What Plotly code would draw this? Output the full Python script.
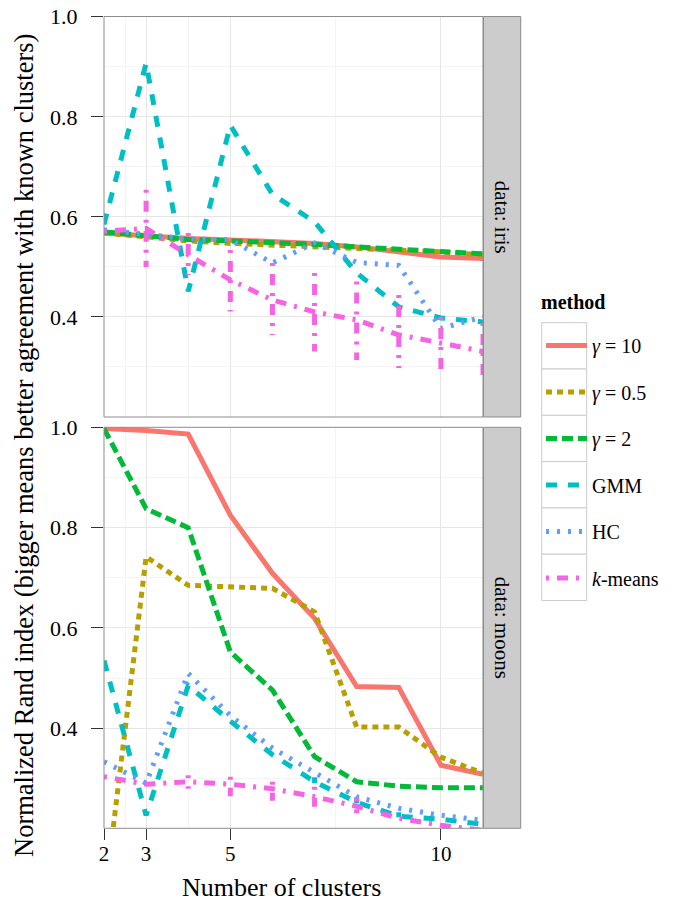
import plotly.graph_objects as go

# ---------------- data ----------------
clusters = [2, 3, 4, 5, 6, 7, 8, 9, 10, 11]
method_names = ["<i>γ</i> = 10", "<i>γ</i> = 0.5", "<i>γ</i> = 2", "GMM", "HC", "<i>k</i>-means"]

# data: iris
iris_g10 = [0.568, 0.562, 0.557, 0.554, 0.551, 0.547, 0.540, 0.530, 0.520, 0.517]
iris_g05 = [0.568, 0.560, 0.552, 0.547, 0.544, 0.540, 0.537, 0.533, 0.530, 0.524]
iris_g2 = [0.570, 0.562, 0.555, 0.552, 0.549, 0.545, 0.540, 0.536, 0.532, 0.526]
iris_gmm = [0.585, 0.907, 0.451, 0.783, 0.645, 0.590, 0.488, 0.420, 0.398, 0.390]
iris_hc = [0.574, 0.566, 0.556, 0.554, 0.508, 0.548, 0.509, 0.503, 0.377, 0.400]
iris_km = [0.571, 0.577, 0.524, 0.474, 0.434, 0.410, 0.394, 0.364, 0.348, 0.331]
iris_km_lo = [None, 0.500, 0.484, 0.411, 0.364, 0.331, 0.314, 0.298, 0.281, 0.268]
iris_km_hi = [None, 0.654, 0.568, 0.534, 0.508, 0.488, 0.471, 0.444, 0.400, 0.388]

# data: moons
moons_g10 = [0.998, 0.994, 0.987, 0.825, 0.709, 0.619, 0.483, 0.481, 0.326, 0.308]
moons_g05 = [0.050, 0.742, 0.685, 0.683, 0.679, 0.632, 0.402, 0.402, 0.342, 0.310]
moons_g2 = [0.998, 0.838, 0.800, 0.552, 0.476, 0.343, 0.293, 0.284, 0.281, 0.281]
moons_gmm = [0.535, 0.226, 0.485, 0.414, 0.347, 0.293, 0.252, 0.224, 0.218, 0.208]
moons_hc = [0.333, 0.290, 0.509, 0.425, 0.360, 0.311, 0.263, 0.240, 0.226, 0.216]
moons_km = [0.303, 0.288, 0.293, 0.288, 0.279, 0.263, 0.244, 0.220, 0.206, 0.196]
moons_km_lo = [None, None, 0.279, 0.264, 0.255, 0.243, 0.230, None, None, None]
moons_km_hi = [None, None, 0.306, 0.303, 0.293, 0.283, 0.260, None, None, None]
moons_gmm_lo = [None, None, None, None, None, 0.290, 0.250, 0.222, None, None]
moons_gmm_hi = [None, None, None, None, None, 0.302, 0.262, 0.232, None, None]

x_ticks = [2, 3, 5, 10]
x_minor = [2.5, 4, 7.5]
y_ticks = [0.4, 0.6, 0.8, 1.0]
y_minor = [0.3, 0.5, 0.7, 0.9]
panel_labels = ["data: iris", "data: moons"]
legend_title = "method"
x_title = "Number of clusters"
y_title = "Normalized Rand index (bigger means better agreement with known clusters)"

# ---------------- styles ----------------
colors = ["#F8766D", "#B79F00", "#00BA38", "#00BFC4", "#619CFF", "#F564E3"]
dashes = ["solid", "6px,5px", "11px,5px", "11px,11px", "3px,8px", "3px,8px,11px,8px"]
LW = 5
FONT = "Liberation Serif"

W, H = 674, 901
def px(v):
    return v / W
def py(v):
    return 1 - v / H

fig = go.Figure()

panels = [
    ("x", "y", [iris_g10, iris_g05, iris_g2, iris_gmm, iris_hc, iris_km],
     [(iris_km_lo, iris_km_hi, 5)]),
    ("x2", "y2", [moons_g10, moons_g05, moons_g2, moons_gmm, moons_hc, moons_km],
     [(moons_gmm_lo, moons_gmm_hi, 3), (moons_km_lo, moons_km_hi, 5)]),
]

for pi, (xa, ya, series, ranges) in enumerate(panels):
    for mi, vals in enumerate(series):
        fig.add_trace(go.Scatter(
            x=clusters, y=vals, mode="lines", xaxis=xa, yaxis=ya,
            name=method_names[mi], legendgroup=str(mi),
            showlegend=(pi == 0),
            line=dict(color=colors[mi], width=LW, dash=dashes[mi]),
            hoverinfo="skip",
        ))
        for lo, hi, m in ranges:
            if m != mi:
                continue
            sx, sy = [], []
            for c, a, b in zip(clusters, lo, hi):
                if a is None:
                    continue
                sx += [c, c, None]
                sy += [b, a, None]
            fig.add_trace(go.Scatter(
                x=sx, y=sy, mode="lines", xaxis=xa, yaxis=ya,
                legendgroup=str(mi), showlegend=False,
                line=dict(color=colors[mi], width=LW, dash=dashes[mi]),
                hoverinfo="skip",
            ))

PL, PR = 104, 483
TOP = (16.5, 417)
BOT = (427.3, 828.3)
xdom = [px(PL), px(PR)]
top_dom = [py(TOP[1]), py(TOP[0])]
bot_dom = [py(BOT[1]), py(BOT[0])]

grid_major = "#E6E6E6"
grid_minor = "#F4F4F4"
axis_common = dict(
    showline=False, zeroline=False, gridcolor=grid_major, gridwidth=1, automargin=False,
)
yaxis_common = dict(
    range=[0.2, 1.0005], tickvals=y_ticks, ticktext=["%.1f" % v for v in y_ticks],
    ticks="outside", ticklen=12, tickcolor="#333333", tickwidth=1,
    ticklabelstandoff=9, ticklabeloverflow="allow", tickfont=dict(size=22, family=FONT),
    minor=dict(tickvals=y_minor, showgrid=True, gridcolor=grid_minor, ticks=""),
)

fig.update_layout(
    width=W, height=H, margin=dict(l=0, r=0, t=0, b=0, autoexpand=False),
    paper_bgcolor="white", plot_bgcolor="white",
    font=dict(family=FONT, color="black", size=20),
    xaxis=dict(domain=xdom, range=[2, 11], anchor="y", matches="x2",
               tickvals=x_ticks, showticklabels=False, ticks="",
               minor=dict(tickvals=x_minor, showgrid=True, gridcolor=grid_minor, ticks=""),
               **axis_common),
    xaxis2=dict(domain=xdom, range=[2, 11], anchor="y2",
                tickvals=x_ticks, ticktext=[str(v) for v in x_ticks],
                ticks="outside", ticklen=11, tickcolor="#333333", tickwidth=1,
                ticklabelstandoff=-5, ticklabeloverflow="allow",
                tickfont=dict(size=21, family=FONT),
                minor=dict(tickvals=x_minor, showgrid=True, gridcolor=grid_minor, ticks=""),
                **axis_common),
    yaxis=dict(domain=top_dom, anchor="x", **yaxis_common, **axis_common),
    yaxis2=dict(domain=bot_dom, anchor="x2", **yaxis_common, **axis_common),
    legend=dict(
        x=px(541), y=py(326), xanchor="left", yanchor="top",
        font=dict(size=20, family=FONT),
        bgcolor="rgba(0,0,0,0)", borderwidth=0,
        tracegroupgap=17.5, itemwidth=41, traceorder="grouped",
    ),
)

shapes = []
# panel borders and facet strips
for (y0, y1) in [TOP, BOT]:
    shapes.append(dict(type="rect", xref="paper", yref="paper",
                       x0=px(PL), x1=px(PR), y0=py(y1), y1=py(y0),
                       line=dict(color="#8C8C8C", width=1), fillcolor="rgba(0,0,0,0)",
                       layer="above"))
    shapes.append(dict(type="rect", xref="paper", yref="paper",
                       x0=px(483.5), x1=px(520.7), y0=py(y1), y1=py(y0),
                       line=dict(color="#8C8C8C", width=1), fillcolor="#CCCCCC",
                       layer="below"))
# legend key boxes
for i in range(6):
    t = 322.7 + i * 46.3
    shapes.append(dict(type="rect", xref="paper", yref="paper",
                       x0=px(541.7), x1=px(586.7), y0=py(t + 46.3), y1=py(t),
                       line=dict(color="#CCCCCC", width=1), fillcolor="white",
                       layer="below"))
fig.update_layout(shapes=shapes)

annotations = [
    dict(text=x_title, xref="paper", yref="paper",
         x=px(281), y=py(887), xanchor="center", yanchor="middle",
         showarrow=False, font=dict(size=26, family=FONT)),
    dict(text=y_title, xref="paper", yref="paper", x=px(24), y=py(446),
         xanchor="center", yanchor="middle",
         textangle=-90, showarrow=False, font=dict(size=26.5, family=FONT)),
    dict(text="<b>" + legend_title + "</b>", xref="paper", yref="paper",
         x=px(539), y=py(302), xanchor="left", yanchor="middle",
         showarrow=False, font=dict(size=20, family=FONT)),
]
for lab, (y0, y1) in zip(panel_labels, [TOP, BOT]):
    annotations.append(dict(text=lab, xref="paper", yref="paper",
                            x=px(502), y=py((y0 + y1) / 2), xanchor="center", yanchor="middle",
                            textangle=90, showarrow=False, font=dict(size=21, family=FONT)))
fig.update_layout(annotations=annotations)

fig.write_html("out.html",
               config={"displayModeBar": False},
               post_script="document.body.style.margin='0';document.body.style.padding='0';")
